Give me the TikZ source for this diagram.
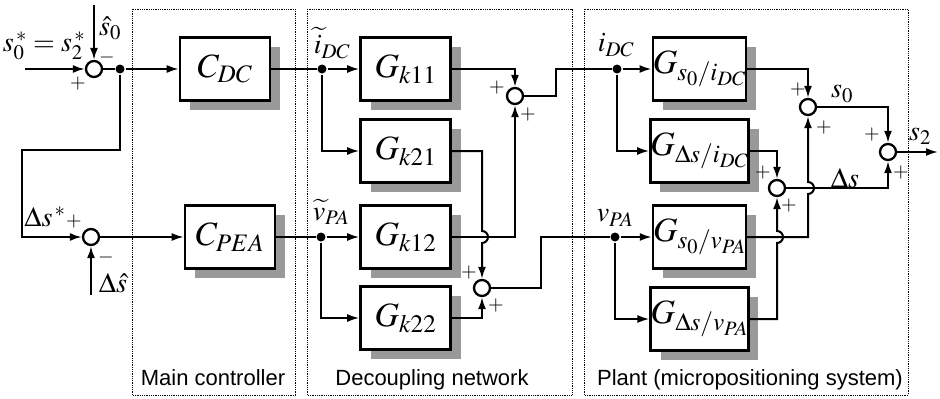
\documentclass[tikz,border=0pt]{standalone}
\usepackage{mathptmx}
\usepackage{fontspec}
\setmainfont{Liberation Serif}
\newfontfamily\arialfont{Liberation Sans}
\usepackage{tikz}
\usetikzlibrary{arrows.meta,shadows}

\begin{document}
\begin{tikzpicture}[x=1pt,y=-1pt,>={Latex[length=12pt,width=8pt]},line width=2pt,
    block/.style={draw, line width=2.6pt, fill=white, minimum width=90pt, minimum height=63pt, inner sep=0pt,
      font=\fontsize{34}{34}\selectfont,
      drop shadow={shadow xshift=10pt,shadow yshift=-9pt,fill=black!40,opacity=1}},
    sum/.style={draw, circle, line width=2.3pt, fill=white, minimum size=16pt, inner sep=0pt},
    dot/.style={circle, fill, inner sep=0pt, minimum size=9pt},
    sign/.style={font=\fontsize{20}{20}\selectfont, inner sep=0pt},
    lbl/.style={font=\fontsize{28}{28}\selectfont, inner sep=0pt},
    frame/.style={line width=0.8pt, densely dotted},
    title/.style={font=\arialfont\fontsize{22}{22}\selectfont, anchor=base, inner sep=0pt}]
      \useasboundingbox (0,0) rectangle (940,399);

      % frames
      \draw[frame] (132,9) rectangle (295,395);
      \draw[frame] (307,9) rectangle (572,395);
      \draw[frame] (584,9) rectangle (908,395);
      \node[title] (tmain) at (213,385) {Main controller};
      \node[title] (tdec) at (432,385) {Decoupling network};
      \node[title] (tplant) at (750,385) {Plant (micropositioning system)};

      % main controller
      \node[sum] (s1) at (94,69) {};
      \node[sum] (s2) at (91,237) {};
      \node[dot] (d1) at (120,69) {};
      \node[block] (cdc) at (225,69) {$C_{DC}$};
      \node[block] (cpea) at (230,237) {$C_{PEA}$};

      % decoupling network
      \node[block] (k11) at (405.5,69) {$G_{k11}$};
      \node[block] (k21) at (405.5,151) {$G_{k21}$};
      \node[block] (k12) at (405.5,237) {$G_{k12}$};
      \node[block] (k22) at (405.5,318) {$G_{k22}$};
      \node[dot] (d2) at (322,69) {};
      \node[dot] (d3) at (321,237) {};
      \node[sum] (s3) at (515,96) {};
      \node[sum] (s4) at (482,288) {};

      % plant
      \node[block] (p1) at (699.5,69) {$G_{s_0/i_{DC}}$};
      \node[block] (p2) at (699.5,151) {$G_{\Delta s/i_{DC}}$};
      \node[block] (p3) at (699.5,237) {$G_{s_0/v_{PA}}$};
      \node[block] (p4) at (699.5,319) {$G_{\Delta s/v_{PA}}$};
      \node[dot] (d4) at (617,69) {};
      \node[dot] (d5) at (615,237) {};
      \node[sum] (s5) at (808,107) {};
      \node[sum] (s6) at (888,152) {};
      \node[sum] (s7) at (777,188) {};

      % free ends and hops
      \coordinate (in1) at (25,69);
      \coordinate (in2) at (94,5);
      \coordinate (in3) at (91,295);
      \coordinate (fb) at (22,150);
      \coordinate (out) at (938,152);
      \coordinate (h1) at (s4 |- k12);
      \coordinate (h2) at (s5 |- s7);
      \coordinate (h3) at (s7 |- p3);

      % connectors
      \draw[->] (in1) -- (s1);
      \draw[->] (in2) -- (s1);
      \draw (s1) -- (d1);
      \draw[->] (d1) -- (cdc);
      \draw[->] (d1) |- (fb) |- (s2);
      \draw[->] (in3) -- (s2);
      \draw[->] (s2) -- (cpea);

      \draw (cdc) -- (d2);
      \draw[->] (d2) -- (k11);
      \draw[->] (d2) |- (k21);
      \draw (cpea) -- (d3);
      \draw[->] (d3) -- (k12);
      \draw[->] (d3) |- (k22);
      \draw[->] (k11) -| (s3);
      \draw[->] (k12) -| (s3);
      \draw[->] (k21) -| ([yshift=6pt]h1) arc[start angle=90,end angle=-90,radius=6pt] -- (s4);
      \draw[->] (k22) -| (s4);
      \draw (s3) -- ++(41,0) |- (d4);
      \draw (s4) -- ++(59,0) |- (d5);

      \draw[->] (d4) -- (p1);
      \draw[->] (d4) |- (p2);
      \draw[->] (d5) -- (p3);
      \draw[->] (d5) |- (p4);
      \draw[->] (p1) -| (s5);
      \draw[->] (p2) -| (s7);
      \draw[->] (p3) -| ([yshift=-6pt]h2) arc[start angle=-90,end angle=90,radius=6pt] -- (s5);
      \draw[->] (p4) -| ([yshift=-6pt]h3) arc[start angle=-90,end angle=90,radius=6pt] -- (s7);
      \draw[->] (s5) -| (s6);
      \draw[->] (s7) -| (s6);
      \draw[->] (s6) -- (out);

      % signal labels
      \node[lbl] (ref) at (44,46) {$s_0^{\,*}=s_2^{\,*}$};
      \node[lbl] (s0hat) at (110,28) {$\hat{s}_0$};
      \node[lbl] (dsref) at (45,217) {$\Delta s^{\,*}$};
      \node[lbl] (dshat) at (113,283) {$\Delta\hat{s}$};
      \node[lbl] (idct) at (332,43) {$\widetilde{i}_{DC}$};
      \node[lbl] (vpat) at (331,212) {$\widetilde{v}_{PA}$};
      \node[lbl] (idc) at (616,45) {$i_{DC}$};
      \node[lbl] (vpa) at (615,218) {$v_{PA}$};
      \node[lbl] (ys0) at (842,94) {$s_0$};
      \node[lbl] (yds) at (845,178) {$\Delta s$};
      \node[lbl] (ys2) at (920,136) {$s_2$};

      % signs
      \node[sign] (g1a) at (78,84) {$+$};
      \node[sign] (g1b) at (107,57) {$-$};
      \node[sign] (g2a) at (74,222) {$+$};
      \node[sign] (g2b) at (106,257) {$-$};
      \node[sign] (g3a) at (497,88) {$+$};
      \node[sign] (g3b) at (528,115) {$+$};
      \node[sign] (g4a) at (469,273) {$+$};
      \node[sign] (g4b) at (496,306) {$+$};
      \node[sign] (g5a) at (798,90) {$+$};
      \node[sign] (g5b) at (824,128) {$+$};
      \node[sign] (g6a) at (872,135) {$+$};
      \node[sign] (g6b) at (901,173) {$+$};
      \node[sign] (g7a) at (763,173) {$+$};
      \node[sign] (g7b) at (789,206) {$+$};
\end{tikzpicture}
\end{document}
